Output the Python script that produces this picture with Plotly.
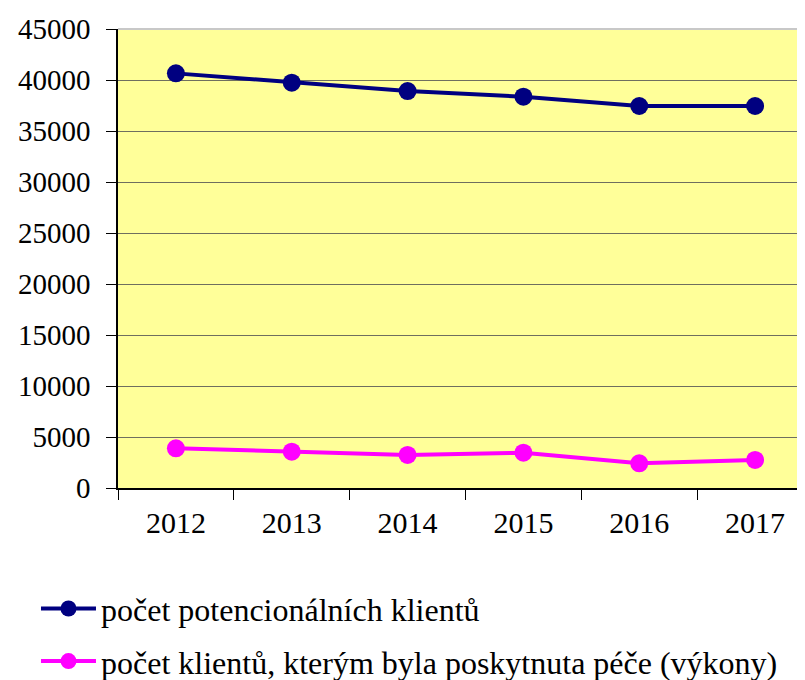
import plotly.graph_objects as go

years = ["2012", "2013", "2014", "2015", "2016", "2017"]
potential_clients = [40650, 39740, 38920, 38360, 37450, 37450]
served_clients = [3890, 3560, 3240, 3460, 2420, 2750]
y_ticks = [0, 5000, 10000, 15000, 20000, 25000, 30000, 35000, 40000, 45000]

series_names = [
    "počet potencionálních klientů",
    "počet klientů, kterým byla poskytnuta péče (výkony)",
]

FONT = "Liberation Serif"

fig = go.Figure()
fig.add_trace(go.Scatter(
    x=years, y=potential_clients, name=series_names[0], mode="lines+markers",
    line=dict(color="#000080", width=4), marker=dict(color="#000080", size=18),
    legendgroup="a",
))
fig.add_trace(go.Scatter(
    x=years, y=served_clients, name=series_names[1], mode="lines+markers",
    line=dict(color="#FF00FF", width=4), marker=dict(color="#FF00FF", size=18),
    legendgroup="b",
))

fig.update_layout(
    width=805, height=680,
    margin=dict(l=110, r=0, t=21, b=200, autoexpand=False),
    paper_bgcolor="white", plot_bgcolor="#FFFF99",
    font=dict(family=FONT, size=29, color="black"),
    showlegend=True,
    legend=dict(
        x=-0.118, y=-0.203, xanchor="left", yanchor="top",
        orientation="v", tracegroupgap=8,
        font=dict(family=FONT, size=32, color="black"),
        bgcolor="rgba(0,0,0,0)", itemwidth=55,
    ),
)
fig.update_xaxes(
    type="category", range=[-0.5, 5.5], automargin=False,
    showgrid=False, ticks="outside", ticklen=10, tickwidth=1, tickcolor="black",
    tickson="boundaries", showline=True, linecolor="black", linewidth=1.5,
    tickfont=dict(family=FONT, size=30, color="black"), zeroline=False,
    ticklabelstandoff=7,
)
fig.update_yaxes(
    range=[0, 45000], tickvals=y_ticks, ticktext=[str(v) for v in y_ticks],
    automargin=False,
    showgrid=True, gridcolor="#6f6f5f", gridwidth=1.2,
    ticks="outside", ticklen=10, tickwidth=1, tickcolor="black",
    showline=True, linecolor="black", linewidth=1.5, zeroline=False,
    tickfont=dict(family=FONT, size=29, color="black"),
    ticklabelstandoff=10,
)
fig.add_shape(type="line", xref="paper", yref="paper", x0=0, x1=1, y0=1, y1=1,
              line=dict(color="#c8c8c8", width=2))

fig.write_html("out.html")
